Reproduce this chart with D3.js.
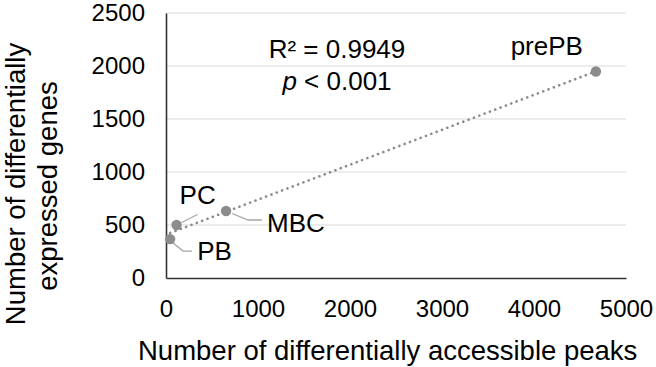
<!DOCTYPE html>
<html>
<head>
<meta charset="utf-8">
<script src="https://cdn.jsdelivr.net/npm/d3@7"></script>
<style>
  body { margin: 0; background: #fff; }
  text { font-family: "Liberation Sans", Arial, sans-serif; fill: #000; }
</style>
</head>
<body>
<div id="chart"></div>
<script>
// data
var cells = ["PB", "PC", "MBC", "prePB"];
var peaks = [45, 115, 653, 4673];     // differentially accessible peaks
var genes = [367, 500, 632, 1948];    // differentially expressed genes
var xTicks = [0, 1000, 2000, 3000, 4000, 5000];
var yTicks = [0, 500, 1000, 1500, 2000, 2500];
var statLines = ["R² = 0.9949", "p < 0.001"];

var svgWidth = 656;
var svgHeight = 367;

var chartMargin = { top: 13, right: 30, bottom: 89, left: 166 };
var chartWidth = svgWidth - chartMargin.left - chartMargin.right;
var chartHeight = svgHeight - chartMargin.top - chartMargin.bottom;

var svg = d3.select("#chart")
  .append("svg")
  .attr("width", svgWidth)
  .attr("height", svgHeight);

var chartGroup = svg.append("g")
  .attr("transform", `translate(${chartMargin.left}, ${chartMargin.top})`);

var xScale = d3.scaleLinear().domain([0, 5000]).range([0, chartWidth]);
var yScale = d3.scaleLinear().domain([0, 2500]).range([chartHeight, 0]);

// gridlines
chartGroup.selectAll(".grid")
  .data(yTicks.filter(d => d > 0))
  .enter()
  .append("line")
  .attr("x1", 0)
  .attr("x2", chartWidth)
  .attr("y1", d => yScale(d))
  .attr("y2", d => yScale(d))
  .attr("stroke", "#d9d9d9")
  .attr("stroke-width", 1.2);

// axes
var bottomAxis = d3.axisBottom(xScale).tickValues(xTicks).tickFormat(d3.format("d")).tickSize(0).tickPadding(22);
var leftAxis = d3.axisLeft(yScale).tickValues(yTicks).tickFormat(d3.format("d")).tickSize(0).tickPadding(21);

var xg = chartGroup.append("g")
  .attr("transform", `translate(0, ${chartHeight})`)
  .call(bottomAxis);
var yg = chartGroup.append("g").call(leftAxis);

[xg, yg].forEach(function(g) {
  g.select(".domain").attr("stroke", "#333").attr("stroke-width", 1.6);
  g.selectAll("text")
    .style("font-size", "24px")
    .style("font-family", "Liberation Sans, Arial, sans-serif")
    .attr("fill", "#000");
});
xg.selectAll("text").attr("dy", "0.71em");

// linear trendline (least squares)
var n = peaks.length;
var mx = d3.mean(peaks), my = d3.mean(genes);
var sxy = 0, sxx = 0;
for (var i = 0; i < n; i++) {
  sxy += (peaks[i] - mx) * (genes[i] - my);
  sxx += (peaks[i] - mx) * (peaks[i] - mx);
}
var slope = sxy / sxx;
var intercept = my - slope * mx;
var xMin = d3.min(peaks), xMax = d3.max(peaks);

chartGroup.append("line")
  .attr("x1", xScale(xMin))
  .attr("y1", yScale(intercept + slope * xMin))
  .attr("x2", xScale(xMax))
  .attr("y2", yScale(intercept + slope * xMax))
  .attr("stroke", "#8c8c8c")
  .attr("stroke-width", 2.6)
  .attr("stroke-linecap", "round")
  .attr("stroke-dasharray", "0.1,5.6");

// leader lines, offsets relative to each point
var leaders = {
  PB: [[3, 4], [13, 12], [22, 12]],
  PC: [[5, -2.5], [21, -10.5]],
  MBC: [[6, 2.5], [22, 9], [36, 9]]
};
cells.forEach(function(c, i) {
  if (!leaders[c]) return;
  var px = xScale(peaks[i]), py = yScale(genes[i]);
  chartGroup.append("polyline")
    .attr("points", leaders[c].map(p => [px + p[0], py + p[1]].join(",")).join(" "))
    .attr("fill", "none")
    .attr("stroke", "#a6a6a6")
    .attr("stroke-width", 1.3);
});

// points
chartGroup.selectAll(".pt")
  .data(cells)
  .enter()
  .append("circle")
  .attr("cx", (d, i) => xScale(peaks[i]))
  .attr("cy", (d, i) => yScale(genes[i]))
  .attr("r", 5.2)
  .attr("fill", "#8c8c8c");

// point labels
var labelOffset = {
  PB: [27, 21, "start"],
  PC: [3, -21, "start"],
  MBC: [41, 21, "start"],
  prePB: [-13, -17, "end"]
};
chartGroup.selectAll(".lbl")
  .data(cells)
  .enter()
  .append("text")
  .attr("x", (d, i) => xScale(peaks[i]) + labelOffset[d][0])
  .attr("y", (d, i) => yScale(genes[i]) + labelOffset[d][1])
  .attr("text-anchor", d => labelOffset[d][2])
  .style("font-size", "26px")
  .text(d => d);

// stats annotation
var stat = svg.append("g");
stat.append("text")
  .attr("x", 337)
  .attr("y", 58)
  .attr("text-anchor", "middle")
  .style("font-size", "26px")
  .text(statLines[0]);
var pt = stat.append("text")
  .attr("x", 337)
  .attr("y", 90)
  .attr("text-anchor", "middle")
  .style("font-size", "26px");
pt.append("tspan").style("font-style", "italic").text(statLines[1].slice(0, 1));
pt.append("tspan").text(statLines[1].slice(1));

// x-axis label
svg.append("text")
  .attr("x", 138)
  .attr("y", 360)
  .style("font-size", "27.5px")
  .text("Number of differentially accessible peaks");

// y-axis label
var yl = svg.append("text")
  .attr("transform", "rotate(-90)")
  .attr("text-anchor", "middle")
  .style("font-size", "27.5px");
yl.append("tspan").attr("x", -184).attr("y", 25).text("Number of differentially");
yl.append("tspan").attr("x", -186).attr("y", 57).text("expressed genes");
</script>
</body>
</html>
